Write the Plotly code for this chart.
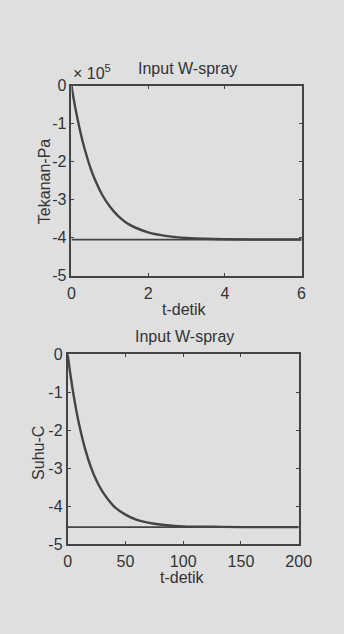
import plotly.graph_objects as go

W, H = 344, 634

# ---- data: top panel (pressure, x 10^5 Pa) ----
t_top = [0, 0.1, 0.2, 0.3, 0.4, 0.5, 0.6, 0.8, 1.0, 1.2, 1.5, 2.0, 2.5, 3.0, 3.5, 4.0, 5.0, 6.0]
p_top = [0, -0.58, -1.07, -1.50, -1.86, -2.18, -2.44, -2.87, -3.18, -3.41, -3.65, -3.86, -3.96, -4.01, -4.03, -4.04, -4.05, -4.05]
t_ref_top = [0, 6]
p_ref_top = [-4.05, -4.05]

# ---- data: bottom panel (temperature) ----
t_bot = [0, 2.5, 5, 7.5, 10, 15, 20, 25, 30, 40, 50, 60, 75, 100, 125, 150, 200]
s_bot = [0, -0.56, -1.05, -1.48, -1.86, -2.48, -2.96, -3.33, -3.61, -4.00, -4.22, -4.36, -4.46, -4.53, -4.54, -4.55, -4.55]
t_ref_bot = [0, 200]
s_ref_bot = [-4.55, -4.55]

# ticks
y_ticks = [0, -1, -2, -3, -4, -5]
y_tick_text = ["0", "-1", "-2", "-3", "-4", "-5"]
x_ticks_top = [0, 2, 4, 6]
x_ticks_bot = [0, 50, 100, 150, 200]

BG = "#dfdfdf"
INK = "#333333"
LINE = "#444444"
FONT = "Liberation Sans, Arial, sans-serif"
FS = 16


def px_x(p):
    return p / W


def px_y(p):
    return 1 - p / H


fig = go.Figure()
fig.add_trace(go.Scatter(x=t_top, y=p_top, mode="lines", line=dict(color=LINE, width=2.4, shape="spline"),
                         xaxis="x", yaxis="y", showlegend=False))
fig.add_trace(go.Scatter(x=t_ref_top, y=p_ref_top, mode="lines", line=dict(color=LINE, width=1.8),
                         xaxis="x", yaxis="y", showlegend=False))
fig.add_trace(go.Scatter(x=t_bot, y=s_bot, mode="lines", line=dict(color=LINE, width=2.4, shape="spline"),
                         xaxis="x2", yaxis="y2", showlegend=False))
fig.add_trace(go.Scatter(x=t_ref_bot, y=s_ref_bot, mode="lines", line=dict(color=LINE, width=1.8),
                         xaxis="x2", yaxis="y2", showlegend=False))

axis_common = dict(showline=True, linecolor=LINE, linewidth=1.8, mirror="allticks", ticks="inside",
                   ticklen=3, tickcolor=LINE, tickwidth=1.4, showgrid=False, zeroline=False,
                   tickfont=dict(family=FONT, size=FS, color=INK))

fig.update_layout(
    width=W, height=H, margin=dict(l=0, r=0, t=0, b=0),
    paper_bgcolor=BG, plot_bgcolor=BG,
    xaxis=dict(domain=[px_x(71), px_x(313)], range=[0, 6], anchor="y", ticklabelstandoff=2,
               tickvals=x_ticks_top, ticktext=[str(v) for v in x_ticks_top], **axis_common),
    yaxis=dict(domain=[px_y(275), px_y(80)], range=[-5, 0], anchor="x",
               tickvals=y_ticks, ticktext=y_tick_text, **axis_common),
    xaxis2=dict(domain=[px_x(67), px_x(310)], range=[0, 200], anchor="y2", ticklabelstandoff=2,
                tickvals=x_ticks_bot, ticktext=[str(v) for v in x_ticks_bot], **axis_common),
    yaxis2=dict(domain=[px_y(551), px_y(356)], range=[-5, 0], anchor="x2",
                tickvals=y_ticks, ticktext=y_tick_text, **axis_common),
)

ann = []


def add_text(text, x, y, angle=0, xanchor="center", size=FS):
    ann.append(dict(text=text, x=px_x(x), y=px_y(y), xref="paper", yref="paper", showarrow=False,
                    xanchor=xanchor, yanchor="middle", textangle=angle,
                    font=dict(family=FONT, size=size, color=INK)))


add_text("Input W-spray", 193, 62)
add_text("× 10<sup>5</sup>", 70, 66, xanchor="left")
add_text("t-detik", 190, 310)
add_text("Tekanan-Pa", 42, 178, angle=-90)
add_text("Input W-spray", 190, 338)
add_text("t-detik", 188, 585)
add_text("Suhu-C", 37, 457, angle=-90)

fig.update_layout(annotations=ann)

fig.write_html("out.html")
